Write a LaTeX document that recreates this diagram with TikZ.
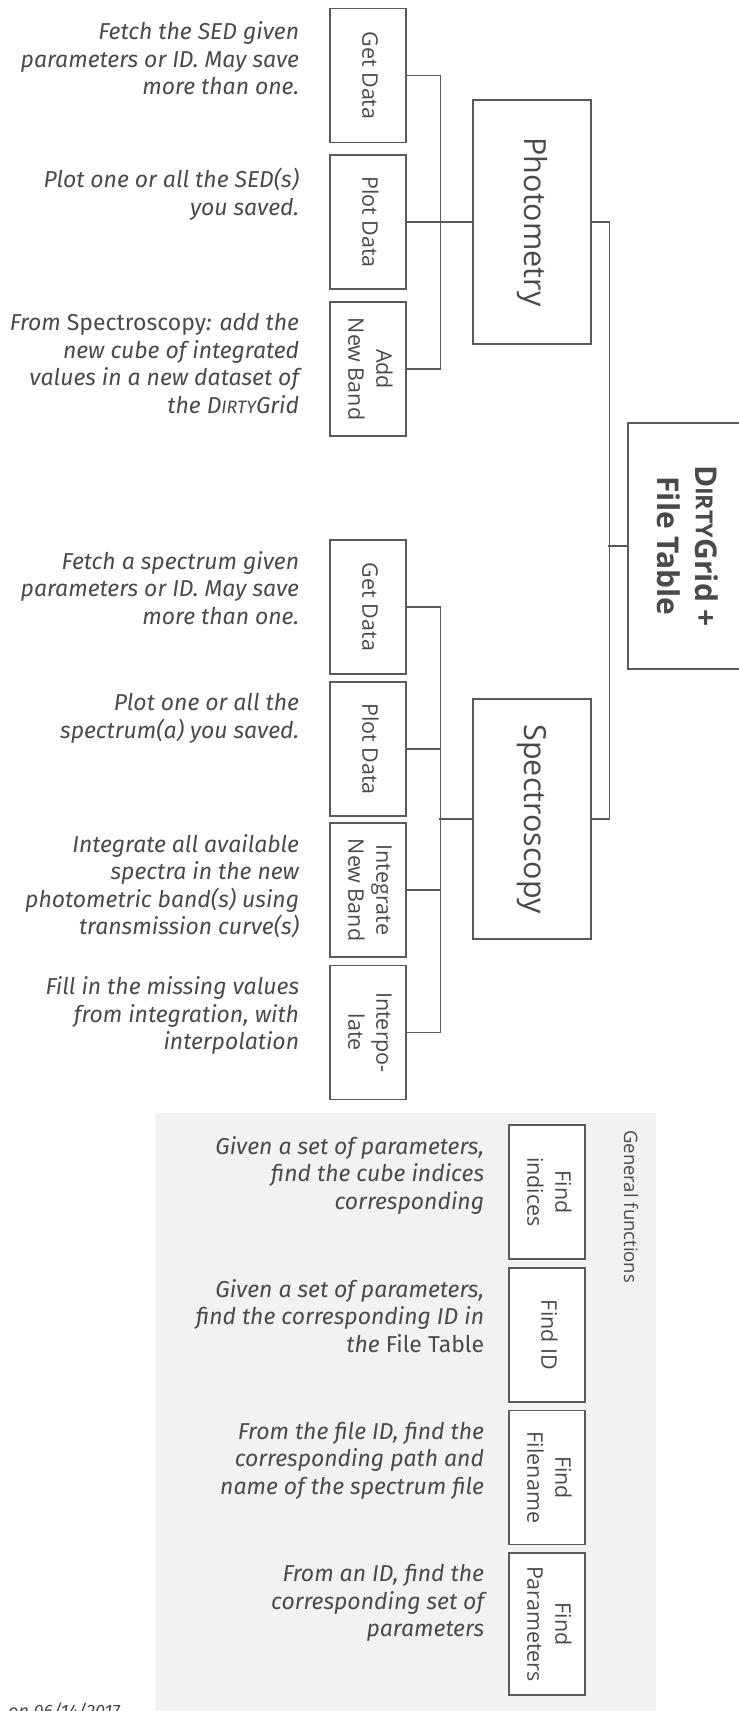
\documentclass[tikz,border=0pt]{standalone}
\usepackage{fontspec}
\usepackage{graphicx}
\usepackage{tikz}
\usetikzlibrary{positioning, calc}
\newfontfamily\labelfont{Open Sans}
\newfontfamily\descfont{Fira Sans}
\definecolor{ink}{HTML}{4A4A4A}
\definecolor{rule}{HTML}{5A5A5A}
\definecolor{panel}{HTML}{F1F2F4}
\newcommand{\vlabel}[1]{\rotatebox{-90}{\begin{tabular}{@{}c@{}}#1\end{tabular}}}
\newcommand{\dirtyname}{D\scalebox{0.78}{IRTY}Grid}

\begin{document}
\begin{tikzpicture}[
  x=1pt, y=-1pt,
  fn/.style={draw=rule, line width=1.4pt, fill=white, inner sep=0pt,
             minimum width=76pt, minimum height=134pt, text=ink,
             font=\labelfont\fontsize{21.5}{28}\selectfont},
  group/.style={draw=rule, line width=1.4pt, fill=white, inner sep=0pt,
                minimum width=118pt, text=ink,
                font=\labelfont\fontsize{30.5}{36}\selectfont},
  desc/.style={anchor=north east, align=right, inner sep=0pt, text=ink,
               font=\descfont\itshape\fontsize{23}{27.5}\selectfont},
  wire/.style={draw=rule, line width=1.4pt},
]
\useasboundingbox (0,0) rectangle (739,1711);
\fill[panel] (155,1113) rectangle (656,1711);

% photometry branch
\node[fn] (getP) at (368,75.5) {\vlabel{Get Data}};
\node[fn] (plotP) at (368,222) {\vlabel{Plot Data}};
\node[fn] (addP) at (368,369) {\vlabel{Add\\New Band}};
\node[group, minimum height=244pt] (photo) at (532,222) {\vlabel{Photometry}};

% spectroscopy branch
\node[fn] (getS) at (368,607) {\vlabel{Get Data}};
\node[fn] (plotS) at (368,749) {\vlabel{Plot Data}};
\node[fn] (integS) at (368,890) {\vlabel{Integrate\\New Band}};
\node[fn] (interpS) at (368,1032.5) {\vlabel{Interpo-\\late}};
\node[group, minimum height=240pt] (spec) at (532,819) {\vlabel{Spectroscopy}};

\node[draw=rule, line width=1.4pt, fill=white, inner sep=0pt, text=ink,
      minimum width=113pt, minimum height=246pt,
      font=\labelfont\bfseries\fontsize{30}{38}\selectfont]
  (grid) at (684.5,546) {\vlabel{\dirtyname\ +\\File Table}};

% general functions
\node[fn] (findInd) at (547,1192) {\vlabel{Find\\indices}};
\node[fn] (findID) at (547,1335) {\vlabel{Find ID}};
\node[fn] (findFile) at (547,1477.5) {\vlabel{Find\\Filename}};
\node[fn, minimum height=142pt] (findPar) at (547,1624) {\vlabel{Find\\Parameters}};
\node[rotate=-90, anchor=west, inner sep=0pt, text=ink,
      font=\labelfont\fontsize{18.5}{22}\selectfont] (general) at (631,1130)
  {General functions};

% connectors
\draw[wire] (getP.east) -- ++(34,0) |- (addP.east);
\draw[wire] (plotP.east) -- (photo.west);
\draw[wire] (getS.east) -- ++(34,0) |- (interpS.east);
\draw[wire] (plotS.east) -- ++(34,0);
\draw[wire] (integS.east) -- ++(34,0);
\draw[wire] (spec.west) -- ++(-33,0);
\draw[wire] (photo.east) -- ++(18,0) |- (spec.east);
\draw[wire] (grid.west) -- ++(-19,0);

% descriptions
\node[desc] (getPtxt) at ([xshift=-30pt, yshift=-14pt]getP.north west)
  {Fetch the SED given\\parameters or ID. May save\\more than one.};
\node[desc] (plotPtxt) at ([xshift=-30pt, yshift=-14pt]plotP.north west)
  {Plot one or all the SED(s)\\you saved.};
\node[desc] (addPtxt) at ([xshift=-30pt, yshift=-12pt]addP.north west)
  {From {\upshape Spectroscopy}: add the\\new cube of integrated\\values in a new dataset of\\the \dirtyname};
\node[desc] (getStxt) at ([xshift=-30pt, yshift=-12pt]getS.north west)
  {Fetch a spectrum given\\parameters or ID. May save\\more than one.};
\node[desc] (plotStxt) at ([xshift=-30pt, yshift=-12pt]plotS.north west)
  {Plot one or all the\\spectrum(a) you saved.};
\node[desc] (integStxt) at ([xshift=-30pt, yshift=-12pt]integS.north west)
  {Integrate all available\\spectra in the new\\photometric band(s) using\\transmission curve(s)};
\node[desc] (interpStxt) at ([xshift=-30pt, yshift=-12pt]interpS.north west)
  {Fill in the missing values\\from integration, with\\interpolation};
\node[desc] (findIndtxt) at ([xshift=-24pt, yshift=-12pt]findInd.north west)
  {Given a set of parameters,\\find the cube indices\\corresponding};
\node[desc] (findIDtxt) at ([xshift=-24pt, yshift=-12pt]findID.north west)
  {Given a set of parameters,\\find the corresponding ID in\\the {\upshape File Table}};
\node[desc] (findFiletxt) at ([xshift=-24pt, yshift=-12pt]findFile.north west)
  {From the file ID, find the\\corresponding path and\\name of the spectrum file};
\node[desc] (findPartxt) at ([xshift=-24pt, yshift=-12pt]findPar.north west)
  {From an ID, find the\\corresponding set of\\parameters};

\node[anchor=north west, inner sep=0pt, text=ink,
      font=\descfont\itshape\fontsize{18}{20}\selectfont] (stamp) at (8,1703)
  {on 06/14/2017};
\end{tikzpicture}
\end{document}
